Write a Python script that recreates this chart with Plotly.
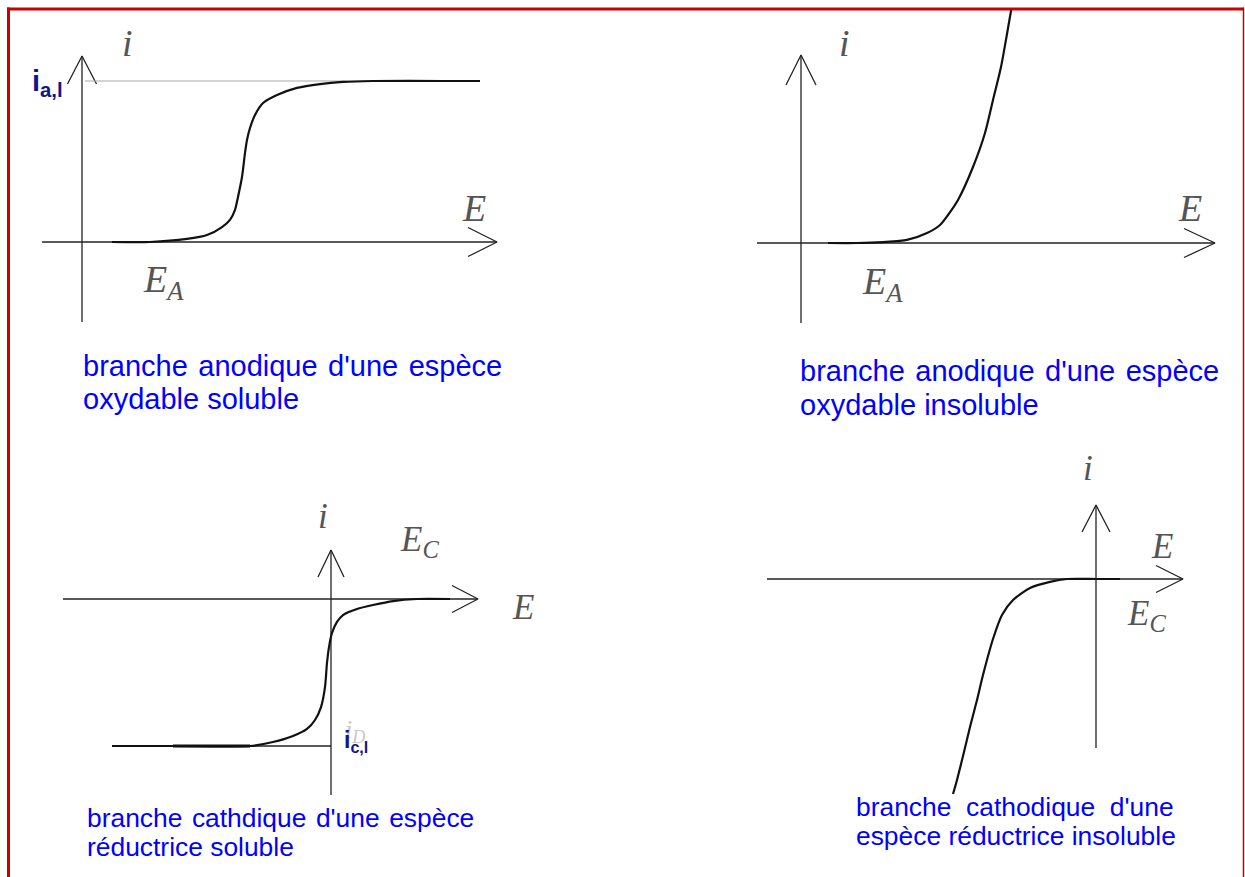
import plotly.graph_objects as go

W, H = 1245, 877

# ---------------- data (E in arbitrary units, i in units of the limiting current) ----
# anodic branch, soluble oxidisable species (wave with a limiting plateau)
E_ox_sol = [0.30, 0.68, 1.05, 1.25, 1.40, 1.48, 1.53, 1.56, 1.60, 1.63, 1.65, 1.68,
            1.73, 1.81, 1.95, 2.15, 2.38, 2.61, 2.91, 3.61, 3.98]
i_ox_sol = [0.000, 0.000, 0.019, 0.043, 0.093, 0.137, 0.199, 0.280, 0.404, 0.553, 0.634,
            0.708, 0.789, 0.863, 0.913, 0.957, 0.981, 0.994, 1.000, 1.000, 1.000]
I_A_LIM = 1.0
E_A_LIM_SPAN = [0.03, 3.98]

# anodic branch, insoluble oxidisable species (no plateau)
E_ox_ins = [0.27, 0.56, 0.82, 1.06, 1.26, 1.39, 1.47, 1.57, 1.72, 1.84, 1.92, 2.00,
            2.06, 2.11]
i_ox_ins = [0.000, 0.000, 0.006, 0.019, 0.062, 0.112, 0.174, 0.267, 0.472, 0.683,
            0.888, 1.093, 1.298, 1.478]

# cathodic branch, soluble reducible species
E_red_sol = [-2.19, -1.58, -0.81, -0.58, -0.38, -0.24, -0.16, -0.10, -0.06, -0.04,
             -0.02, 0.01, 0.06, 0.12, 0.26, 0.42, 0.62, 0.86, 1.19]
i_red_sol = [-1.000, -1.000, -1.000, -0.973, -0.932, -0.884, -0.823, -0.735, -0.599,
             -0.435, -0.327, -0.231, -0.156, -0.109, -0.068, -0.041, -0.014, 0.000, 0.000]
I_C_LIM = -1.0
E_C_LIM_SPAN = [-2.19, 0.0]
E_C_HEAVY = [-1.58, -0.81]

# cathodic branch, insoluble reducible species
E_red_ins = [-1.43, -1.39, -1.32, -1.26, -1.19, -1.13, -1.03, -0.94, -0.83, -0.66,
             -0.46, -0.29, 0.01, 0.24]
i_red_ins = [-1.463, -1.367, -1.177, -1.007, -0.823, -0.653, -0.408, -0.245, -0.143,
             -0.061, -0.020, 0.000, 0.000, 0.000]

CAPTIONS = [
    ["branche\u200a anodique\u200a d'une\u200a espèce", "oxydable soluble"],
    ["branche\u200a anodique\u200a d'une\u200a espèce", "oxydable insoluble"],
    ["branche\u200a cathdique\u200a d'une\u200a espèce", "réductrice soluble"],
    ["branche\u00a0 cathodique\u00a0 d'une", "espèce réductrice insoluble"],
]

# ---------------- panel geometry (pixel origin of the axes, px per unit, plot box) -------
PANELS = [
    dict(origin=(82, 242), scale=(100, 161), box=(25, 530, 10, 330),
         E_ext=(-0.40, 4.15), i_ext=(-0.497, 1.155), vhead=(28, 14.5), hhead=(29, 14.5),
         font=38),
    dict(origin=(801, 243), scale=(100, 161), box=(740, 1242, 8, 330),
         E_ext=(-0.44, 4.14), i_ext=(-0.497, 1.168), vhead=(30, 15), hhead=(31, 14.5),
         font=38),
    dict(origin=(331, 599), scale=(100, 147), box=(40, 560, 480, 800),
         E_ext=(-2.68, 1.47), i_ext=(-1.333, 0.333), vhead=(27, 13), hhead=(26, 13.5),
         font=35),
    dict(origin=(1096, 579), scale=(100, 147), box=(750, 1235, 440, 800),
         E_ext=(-3.29, 0.87), i_ext=(-1.150, 0.503), vhead=(27, 14), hhead=(27, 13.5),
         font=35),
]

AXIS_COLOR = "#222222"
CURVE_COLOR = "#111111"
LABEL_COLOR = "#555555"
SERIF = "Liberation Serif"
SANS = "Liberation Sans"

fig = go.Figure()
layout = dict(width=W, height=H, autosize=False, margin=dict(l=0, r=0, t=0, b=0),
              paper_bgcolor="white", plot_bgcolor="rgba(0,0,0,0)", showlegend=False)
annotations = []


def refs(k):
    return ("x" if k == 1 else f"x{k}"), ("y" if k == 1 else f"y{k}")


for k, P in enumerate(PANELS, start=1):
    ox, oy = P["origin"]
    sx, sy = P["scale"]
    x0, x1, y0, y1 = P["box"]
    xr = [(x0 - ox) / sx, (x1 - ox) / sx]
    yr = [(oy - y1) / sy, (oy - y0) / sy]
    xname = "xaxis" if k == 1 else f"xaxis{k}"
    yname = "yaxis" if k == 1 else f"yaxis{k}"
    xa, ya = refs(k)
    layout[xname] = dict(domain=[x0 / W, x1 / W], range=xr, visible=False, fixedrange=True,
                         anchor=ya)
    layout[yname] = dict(domain=[1 - y1 / H, 1 - y0 / H], range=yr, visible=False,
                         fixedrange=True, anchor=xa)

    # axes with open arrow heads
    Emin, Emax = P["E_ext"]
    imin, imax = P["i_ext"]
    vl, vw = P["vhead"]
    hl, hw = P["hhead"]
    axis_line = dict(color=AXIS_COLOR, width=1.3)
    fig.add_trace(go.Scatter(x=[Emin, Emax], y=[0, 0], mode="lines", line=axis_line,
                             xaxis=xa, yaxis=ya, hoverinfo="skip"))
    fig.add_trace(go.Scatter(x=[0, 0], y=[imin, imax], mode="lines", line=axis_line,
                             xaxis=xa, yaxis=ya, hoverinfo="skip"))
    fig.add_trace(go.Scatter(x=[-vw / sx, 0, vw / sx], y=[imax - vl / sy, imax, imax - vl / sy],
                             mode="lines", line=axis_line, xaxis=xa, yaxis=ya, hoverinfo="skip"))
    fig.add_trace(go.Scatter(x=[Emax - hl / sx, Emax, Emax - hl / sx], y=[hw / sy, 0, -hw / sy],
                             mode="lines", line=axis_line, xaxis=xa, yaxis=ya, hoverinfo="skip"))

# limiting-current guide lines
fig.add_trace(go.Scatter(x=E_A_LIM_SPAN, y=[I_A_LIM, I_A_LIM], mode="lines",
                         line=dict(color="#a8a8a8", width=1.2), xaxis="x", yaxis="y"))
fig.add_trace(go.Scatter(x=E_C_LIM_SPAN, y=[I_C_LIM, I_C_LIM], mode="lines",
                         line=dict(color=AXIS_COLOR, width=1.3), xaxis="x3", yaxis="y3"))
fig.add_trace(go.Scatter(x=E_C_HEAVY, y=[I_C_LIM, I_C_LIM], mode="lines",
                         line=dict(color=CURVE_COLOR, width=3.2), xaxis="x3", yaxis="y3"))

# current-potential curves
curve = dict(color=CURVE_COLOR, width=2.2, shape="spline", smoothing=0.7)
for (ex, iy), k in [((E_ox_sol, i_ox_sol), 1), ((E_ox_ins, i_ox_ins), 2),
                    ((E_red_sol, i_red_sol), 3), ((E_red_ins, i_red_ins), 4)]:
    xa, ya = refs(k)
    fig.add_trace(go.Scatter(x=ex, y=iy, mode="lines", line=curve, xaxis=xa, yaxis=ya))


def serif_label(k, x, y, text, size, anchor="center"):
    xa, ya = refs(k)
    annotations.append(dict(x=x, y=y, xref=xa, yref=ya, text=text, showarrow=False,
                            xanchor=anchor, yanchor="middle",
                            font=dict(family=SERIF, size=size, color=LABEL_COLOR,
                                      style="italic")))


# panel 1
serif_label(1, 0.45, 1.236, "i", 38)
serif_label(1, 3.92, 0.211, "E", 38)
serif_label(1, 0.59, -0.25, "E<sub>A</sub>", 38, "left")
annotations.append(dict(x=-0.52, y=0.99, xref="x", yref="y", xanchor="left", yanchor="middle",
                        text="<b>i<sub>a,l</sub></b>", showarrow=False,
                        font=dict(family=SANS, size=29, color="#14148c")))
# panel 2
serif_label(2, 0.44, 1.242, "i", 38)
serif_label(2, 3.89, 0.217, "E", 38)
serif_label(2, 0.59, -0.256, "E<sub>A</sub>", 38, "left")
# panel 3
serif_label(3, -0.08, 0.558, "i", 35)
serif_label(3, 0.67, 0.39, "E<sub>C</sub>", 35, "left")
serif_label(3, 1.92, -0.061, "E", 35)
serif_label(3, 0.12, -0.90, "i<sub>D</sub>", 26, "left")
annotations[-1]["font"]["color"] = "#c8c8c8"
annotations.append(dict(x=0.11, y=-0.97, xref="x3", yref="y3", xanchor="left", yanchor="middle",
                        text="<b>i<sub>c,l</sub></b>", showarrow=False,
                        font=dict(family=SANS, size=23, color="#14148c")))
# panel 4
serif_label(4, -0.08, 0.755, "i", 35)
serif_label(4, 0.66, 0.218, "E", 35)
serif_label(4, 0.29, -0.245, "E<sub>C</sub>", 35, "left")

# captions (one annotation per line, left aligned)
CAPTION_POS = [  # (left px, centre of first line px, line step px, font px)
    (81, 366, 33, 29),
    (798, 371, 34, 29),
    (85, 818, 29, 26.4),
    (854, 807, 29, 26.4),
]
for lines, (lx, ly, step, fs) in zip(CAPTIONS, CAPTION_POS):
    for j, line in enumerate(lines):
        annotations.append(dict(x=lx / W, y=1 - (ly + j * step) / H, xref="paper", yref="paper",
                                xanchor="left", yanchor="middle", text=line, showarrow=False,
                                font=dict(family=SANS, size=fs, color="#0000ff")))

# red frame
frame = "#cc0000"
shapes = [
    dict(type="line", xref="paper", yref="paper", x0=7 / W, x1=1244 / W, y0=1 - 9 / H,
         y1=1 - 9 / H, line=dict(color=frame, width=3), layer="above"),
    dict(type="line", xref="paper", yref="paper", x0=8.5 / W, x1=8.5 / W, y0=1 - 7.5 / H, y1=0,
         line=dict(color=frame, width=3), layer="above"),
    dict(type="line", xref="paper", yref="paper", x0=1243.5 / W, x1=1243.5 / W, y0=1 - 7.5 / H,
         y1=0, line=dict(color=frame, width=1.5), layer="above"),
]

layout["annotations"] = annotations
layout["shapes"] = shapes
fig.update_layout(**layout)
fig.write_html("out.html", config={"displayModeBar": False})
